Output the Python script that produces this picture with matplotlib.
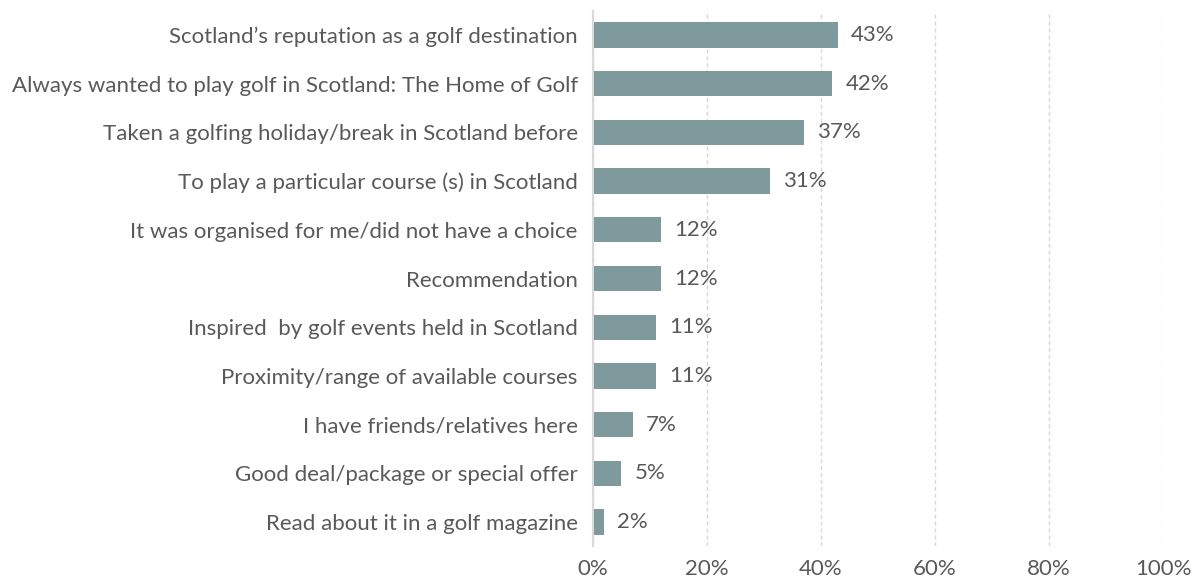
import matplotlib.pyplot as plt
from matplotlib.ticker import PercentFormatter

reasons = [
    "Scotland\u2019s reputation as a golf destination",
    "Always wanted to play golf in Scotland: The Home of Golf",
    "Taken a golfing holiday/break in Scotland before",
    "To play a particular course (s) in Scotland",
    "It was organised for me/did not have a choice",
    "Recommendation",
    "Inspired  by golf events held in Scotland",
    "Proximity/range of available courses",
    "I have friends/relatives here",
    "Good deal/package or special offer",
    "Read about it in a golf magazine",
]
shares = [43, 42, 37, 31, 12, 12, 11, 11, 7, 5, 2]

bar_color = "#7F9A9C"
text_color = "#595959"

plt.rcParams['font.family'] = ['Lato', 'DejaVu Sans']

fig = plt.figure(figsize=(11.94, 5.88), dpi=100)
ax = fig.add_axes([0.4966, 0.0707, 0.4774, 0.9113])

ypos = list(range(len(reasons)))
ax.barh(ypos, shares, height=0.52, color=bar_color, zorder=3)
for y, v in zip(ypos, shares):
    ax.text(v + 2.3, y, f"{v}%", va='center', ha='left', fontsize=16, color=text_color, zorder=4)

ax.set_xlim(0, 100)
ax.set_ylim(len(reasons) - 0.5, -0.5)
ax.set_yticks(ypos)
ax.set_yticklabels(reasons)
ax.set_xticks([0, 20, 40, 60, 80, 100])
ax.xaxis.set_major_formatter(PercentFormatter(decimals=0))

ax.tick_params(axis='y', length=0, pad=11, labelsize=16, labelcolor=text_color)
ax.tick_params(axis='x', length=0, pad=9, labelsize=16, labelcolor=text_color)

ax.grid(axis='x', color='#D9D9D9', linestyle=(0, (3, 2)), linewidth=1.0, zorder=0)
for s in ['top', 'right', 'bottom']:
    ax.spines[s].set_visible(False)
ax.spines['left'].set_color('#D9D9D9')
ax.spines['left'].set_linewidth(1.5)
ax.spines['left'].set_zorder(5)

fig.savefig('out.png', dpi=100)
